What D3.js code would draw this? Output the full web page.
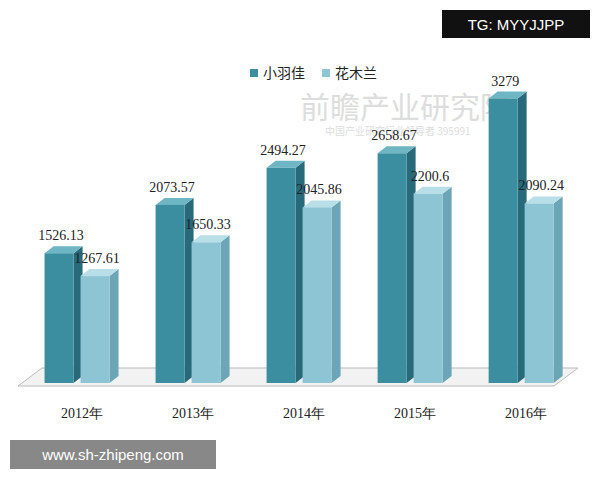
<!DOCTYPE html><html><head><meta charset="utf-8"><script src="https://cdn.jsdelivr.net/npm/d3@7"></script>
<style>body{margin:0;background:#fff}</style></head><body><svg id="c" width="600" height="480"></svg>
<script>
const years=["2012年","2013年","2014年","2015年","2016年"];
const seriesNames=["小羽佳","花木兰"];
const xiaoyujia=[1526.13,2073.57,2494.27,2658.67,3279];
const mulan=[1267.61,1650.33,2045.86,2200.6,2090.24];
const labels1=["1526.13","2073.57","2494.27","2658.67","3279"];
const labels2=["1267.61","1650.33","2045.86","2200.6","2090.24"];
const svg=d3.select("#c");
const f="'Liberation Serif','DejaVu Serif',serif";
const x=d3.scaleBand().domain(years).range([36,580]).paddingInner(0.2).paddingOuter(0.05);
const y=d3.scaleLinear().domain([0,3500]).range([388,79]);
const dx=9,dy=-7,bw=29,gap=7;
// watermark (behind)
svg.append("text").attr("x",300).attr("y",118).attr("font-family","'Noto Sans CJK SC'").attr("font-size",30).attr("fill","#ddd").text("前瞻产业研究院");
svg.append("text").attr("x",325).attr("y",135).attr("font-family","'Noto Sans CJK SC'").attr("font-size",10).attr("fill","#ddd").text("中国产业研究行业领导者 395991");
// floor
svg.append("path").attr("d","M18,386 L42,368 L578,368 L554,386 Z").attr("fill","#f2f2f2").attr("stroke","#bbb");
const cols=[{f:"#3b8e9f",s:"#28697a",t:"#6fb6c4"},{f:"#8ec5d4",s:"#6ba5b6",t:"#b8dfe8"}];
[xiaoyujia,mulan].forEach((vals,si)=>{
 vals.forEach((v,i)=>{
  const x0=x(years[i])+si*(bw+gap)+3, yt=y(v), yb=383, c=cols[si];
  const g=svg.append("g");
  g.append("path").attr("d",`M${x0+bw},${yt} L${x0+bw+dx},${yt+dy} L${x0+bw+dx},${yb+dy} L${x0+bw},${yb} Z`).attr("fill",c.s);
  g.append("path").attr("d",`M${x0},${yt} L${x0+dx},${yt+dy} L${x0+bw+dx},${yt+dy} L${x0+bw},${yt} Z`).attr("fill",c.t);
  g.append("rect").attr("x",x0).attr("y",yt).attr("width",bw).attr("height",yb-yt).attr("fill",c.f);
  svg.append("text").attr("x",x0+bw/2+2).attr("y",yt+dy-6).attr("text-anchor","middle")
   .attr("font-family",f).attr("font-size",14).attr("fill","#222").text((si?labels2:labels1)[i]);
 });
 });
years.forEach(yr=>svg.append("text").attr("x",x(yr)+x.bandwidth()/2-4).attr("y",418).attr("text-anchor","middle")
 .attr("font-family",f).attr("font-size",14).attr("fill","#222").text(yr));
// legend
seriesNames.forEach((n,i)=>{
 const lx=250+i*72;
 svg.append("rect").attr("x",lx).attr("y",69).attr("width",8).attr("height",8).attr("fill",cols[i].f);
 svg.append("text").attr("x",lx+13).attr("y",78).attr("font-family","'Noto Sans CJK SC'").attr("font-size",14).attr("fill","#222").text(n);
});
svg.append("rect").attr("x",442).attr("y",10).attr("width",148).attr("height",28).attr("fill","#111");
svg.append("text").attr("x",516).attr("y",30).attr("text-anchor","middle").attr("font-family","'Liberation Sans'").attr("font-size",15).attr("fill","#fff").text("TG: MYYJJPP");
svg.append("rect").attr("x",10).attr("y",440).attr("width",206).attr("height",29).attr("fill","#888");
svg.append("text").attr("x",113).attr("y",460).attr("text-anchor","middle").attr("font-family","'Liberation Sans'").attr("font-size",15).attr("fill","#fff").text("www.sh-zhipeng.com");
</script></body></html>
